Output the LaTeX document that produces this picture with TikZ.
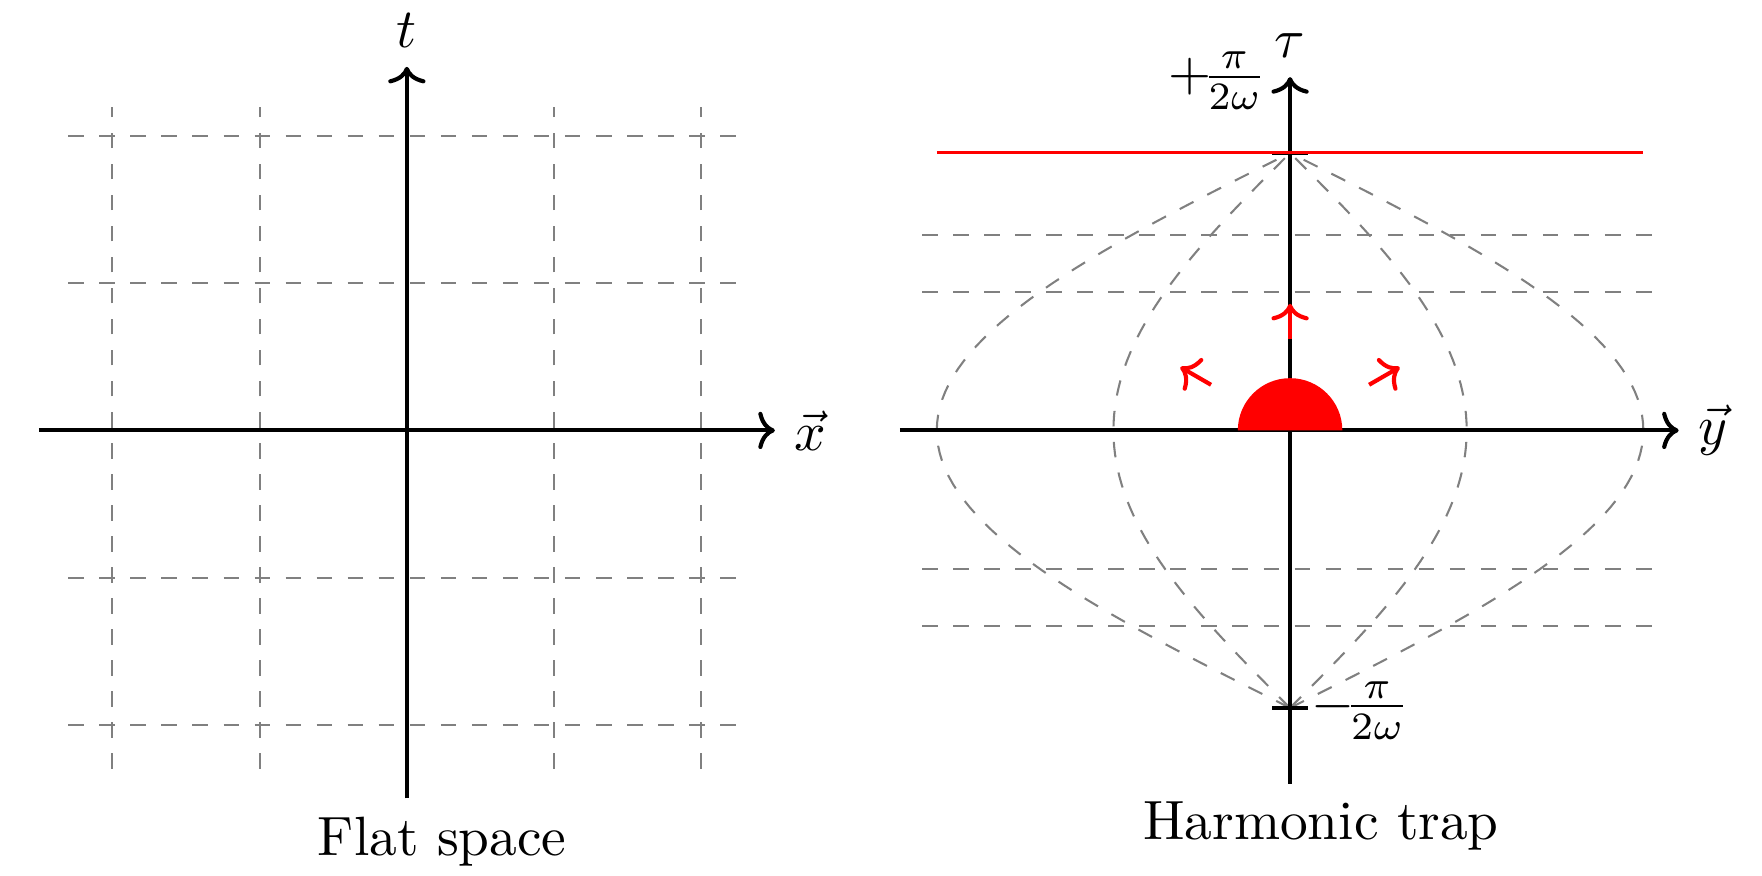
\RequirePackage{fix-cm}
\documentclass[tikz,border=0pt]{standalone}
\usetikzlibrary{arrows.meta}
\begin{document}
\begin{tikzpicture}[
  font=\fontsize{10.7}{13}\selectfont,
  axisline/.style={thick,-{To[length=3.2pt,width=7.2pt]}},
  gridline/.style={gray,dashed},
  redarrow/.style={red,thick,-{To[length=3.2pt,width=7.2pt]}},
  tickline/.style={thick},
  redline/.style={red,semithick},
  fraclabel/.style={inner sep=0pt},
]
\useasboundingbox (-2.764,-3.027) rectangle (9.206,2.924);
% ---------- left panel: flat space ----------
\foreach \v in {-2,-1,1,2}{
  \draw[gridline] (\v,-2.3) -- (\v,2.2);
  \draw[gridline] (-2.3,\v) -- (2.3,\v);
}
\coordinate (Lxl) at (-2.5,0);
\coordinate (Lxr) at (2.5,0);
\coordinate (Ltb) at (0,-2.5);
\coordinate (Ltt) at (0,2.47);
\draw[axisline] (Lxl) -- (Lxr) node[right] (Lxlab) {$\vec{x}$};
\draw[axisline] (Ltb) -- (Ltt) node[above] (Ltlab) {$t$};
\node[below] (Lcap) at (0.24,-2.5) {Flat space};
% ---------- right panel: harmonic trap ----------
\begin{scope}[xshift=6cm]
\foreach \v in {0.939,1.328}{
  \draw[gridline] (-2.5,\v) -- (2.5,\v);
  \draw[gridline] (-2.5,-\v) -- (2.5,-\v);
}
\foreach \a in {-2.4,-1.2,1.2,2.4}{
  \draw[gridline] plot[domain=-90:90,samples=73,variable=\t] ({\a*cos(\t)},{1.2*rad(\t)});
}
\coordinate (Ryl) at (-2.65,0);
\coordinate (Ryr) at (2.64,0);
\coordinate (Rtb) at (0,-2.4);
\coordinate (Rtt) at (0,2.4);
\draw[axisline] (Ryl) -- (Ryr) node[right] (Rylab) {$\vec{y}$};
\draw[axisline] (Rtb) -- (Rtt) node[above=0.333em,inner sep=0pt] (Rtlab) {$\tau$};
\coordinate (Rbl) at (-0.12,-1.885);
\coordinate (Rbr) at (0.12,-1.885);
\coordinate (Rul) at (-0.12,1.885);
\coordinate (Rur) at (0.12,1.885);
\draw[tickline] (Rbl) -- (Rbr);
\draw[tickline] (Rul) -- (Rur);
\coordinate (Rrl) at (-2.4,1.885);
\coordinate (Rrr) at (2.4,1.885);
\draw[redline] (Rrl) -- (Rrr);
\fill[red] (0.355,0) arc (0:180:0.355) -- cycle;
\foreach \ang in {30,90,150}{
  \draw[redarrow] (\ang:0.62) -- (\ang:0.86);
}
\node[fraclabel] (Rtop) at (-0.494,2.374) {$+\!\frac{\pi}{2\omega}$};
\node[fraclabel] (Rbot) at (0.475,-1.903) {$-\!\frac{\pi}{2\omega}$};
\node[below] (Rcap) at (0.21,-2.4) {Harmonic trap};
\end{scope}
\end{tikzpicture}
\end{document}
